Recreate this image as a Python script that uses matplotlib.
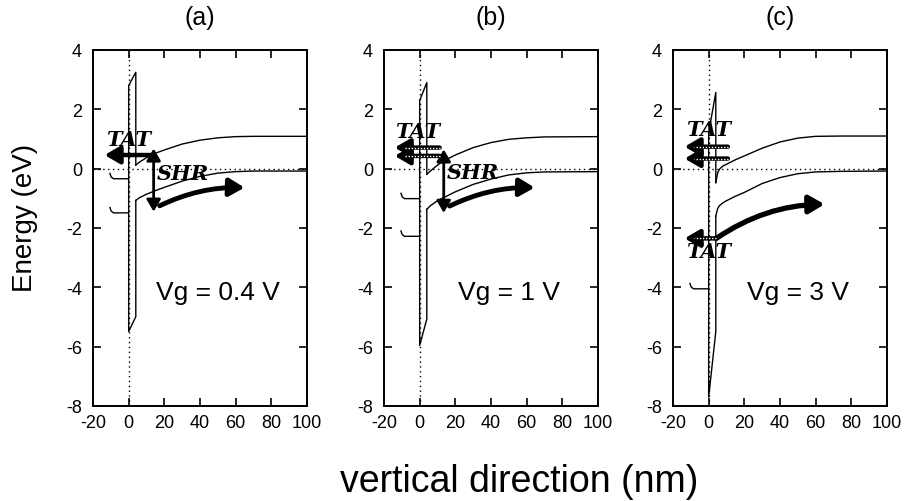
import matplotlib.pyplot as plt
from matplotlib.patches import FancyArrowPatch

plt.rcParams['font.family'] = ['Liberation Sans', 'DejaVu Sans']
plt.rcParams['axes.unicode_minus'] = False

panel_titles = ['(a)', '(b)', '(c)']
vg_labels = ['Vg = 0.4 V', 'Vg = 1 V', 'Vg = 3 V']

# silicon band edges (substrate side), x in nm, energy in eV
x_si_ab = [4, 6, 10, 15, 20, 30, 40, 50, 60, 70, 100]
cb_a = [0.12, 0.22, 0.37, 0.52, 0.63, 0.83, 0.96, 1.04, 1.08, 1.09, 1.09]
vb_a = [-1.07, -0.98, -0.86, -0.74, -0.63, -0.42, -0.26, -0.15, -0.10, -0.08, -0.08]
cb_b = [-0.19, -0.08, 0.12, 0.31, 0.46, 0.71, 0.88, 0.99, 1.04, 1.07, 1.08]
vb_b = [-1.37, -1.25, -1.08, -0.93, -0.78, -0.53, -0.35, -0.21, -0.14, -0.11, -0.10]
x_si_c = [4, 5, 6, 8, 10, 15, 20, 30, 40, 50, 60, 75, 100]
cb_c = [-0.47, -0.15, -0.02, 0.09, 0.15, 0.30, 0.43, 0.69, 0.90, 1.03, 1.09, 1.10, 1.10]
vb_c = [-1.60, -1.35, -1.25, -1.15, -1.08, -0.93, -0.80, -0.50, -0.30, -0.17, -0.11, -0.09, -0.08]

# oxide barrier edges at x=0 and x=4 nm
ox_cb = [(2.80, 3.25), (2.30, 2.90), (1.22, 2.57)]
ox_vb = [(-5.49, -4.99), (-5.96, -5.07), (-7.70, -5.49)]

# gate band edge levels
gate_lv = [[-0.34, -1.49], [-1.01, -2.28], [-4.05]]

left_px = [93, 384, 673]
W, H = 906, 502
fig = plt.figure(figsize=(W / 100, H / 100), dpi=100)


def arrow(ax, p0, p1, lw=3.0, rad=0.0, style='-|>', ms=15, striped=False):
    st = style + ',head_length=0.6,head_width=0.35'
    a = FancyArrowPatch(p0, p1, arrowstyle=st, connectionstyle='arc3,rad=%g' % rad,
                        mutation_scale=ms, lw=lw, color='k', shrinkA=0, shrinkB=0,
                        zorder=5)
    ax.add_patch(a)
    if striped:
        ax.plot([p0[0], p1[0] + 5.5], [p0[1], p1[1]], color='white', lw=1.0,
                ls=(0, (1, 1.2)), zorder=6)


def tat(ax, x, y):
    ax.text(x, y, 'TAT', fontsize=15, family='DejaVu Serif', weight='bold',
            style='italic', ha='center', va='center', zorder=7)


axes = []
for i in range(3):
    ax = fig.add_axes([left_px[i] / W, (H - 407) / H, 214 / W, 356 / H])
    axes.append(ax)
    ax.set_xlim(-20, 100)
    ax.set_ylim(-8, 4)
    ax.set_xticks([-20, 0, 20, 40, 60, 80, 100])
    ax.set_yticks([4, 2, 0, -2, -4, -6, -8])
    ax.tick_params(direction='in', top=True, right=True, length=6, width=1.2,
                   labelsize=13)
    ax.tick_params(axis='x', pad=6)
    ax.tick_params(axis='y', pad=8)
    for s in ax.spines.values():
        s.set_linewidth(1.4)
    ax.axhline(0, color='k', lw=1.0, ls=(0, (1, 2.5)))
    ax.axvline(0, color='k', lw=1.0, ls=(0, (1, 2.5)))
    ax.text(0.5, 1.093, panel_titles[i], transform=ax.transAxes, ha='center',
            va='center', fontsize=18)
    ax.text(50, -4.15, vg_labels[i], ha='center', va='center', fontsize=19)

    xs = x_si_c if i == 2 else x_si_ab
    cb = [cb_a, cb_b, cb_c][i]
    vb = [vb_a, vb_b, vb_c][i]
    ax.plot(xs, cb, color='k', lw=1.0)
    ax.plot(xs, vb, color='k', lw=1.0)
    ax.plot([4, 4, 0, 0, 4, 4],
            [cb[0], ox_cb[i][1], ox_cb[i][0], ox_vb[i][0], ox_vb[i][1], vb[0]],
            color='k', lw=1.0)
    for lv in gate_lv[i]:
        ax.plot([-10.5, -9.8, -8.5, -2, -0.5], [lv + 0.18, lv + 0.06, lv, lv, lv],
                color='k', lw=1.0)

# (a)
ax = axes[0]
arrow(ax, (13.7, 0.46), (-13.5, 0.46), lw=3.2)
tat(ax, 0, 1.0)
arrow(ax, (14, 0.68), (14, -1.45), lw=2.0, style='<|-|>', ms=12)
ax.text(16, -0.15, 'SHR', fontsize=15, family='DejaVu Serif', weight='bold',
        style='italic', ha='left', va='center', zorder=7)
arrow(ax, (17.4, -1.25), (65, -0.64), lw=3.5, rad=-0.12)

# (b)
ax = axes[1]
for y in [0.71, 0.43]:
    arrow(ax, (11.2, y), (-14, y), lw=3.2, striped=True)
tat(ax, -1, 1.27)
arrow(ax, (13.5, 0.65), (13.5, -1.49), lw=2.0, style='<|-|>', ms=12)
ax.text(15, -0.12, 'SHR', fontsize=15, family='DejaVu Serif', weight='bold',
        style='italic', ha='left', va='center', zorder=7)
arrow(ax, (16.8, -1.26), (64.5, -0.64), lw=3.5, rad=-0.12)

# (c)
ax = axes[2]
for y in [0.74, 0.34]:
    arrow(ax, (10.8, y), (-13.5, y), lw=3.2, striped=True)
tat(ax, 0, 1.33)
arrow(ax, (4.3, -2.35), (-13.5, -2.35), lw=3.2, striped=True)
arrow(ax, (4.3, -2.35), (65, -1.2), lw=3.8, rad=-0.15)
tat(ax, 0, -2.78)

fig.text(0.028, 0.565, 'Energy (eV)', rotation=90, ha='center', va='center',
         fontsize=20)
fig.text(0.573, 0.04, 'vertical direction (nm)', ha='center', va='center',
         fontsize=27)

fig.savefig('out.png', dpi=100)
